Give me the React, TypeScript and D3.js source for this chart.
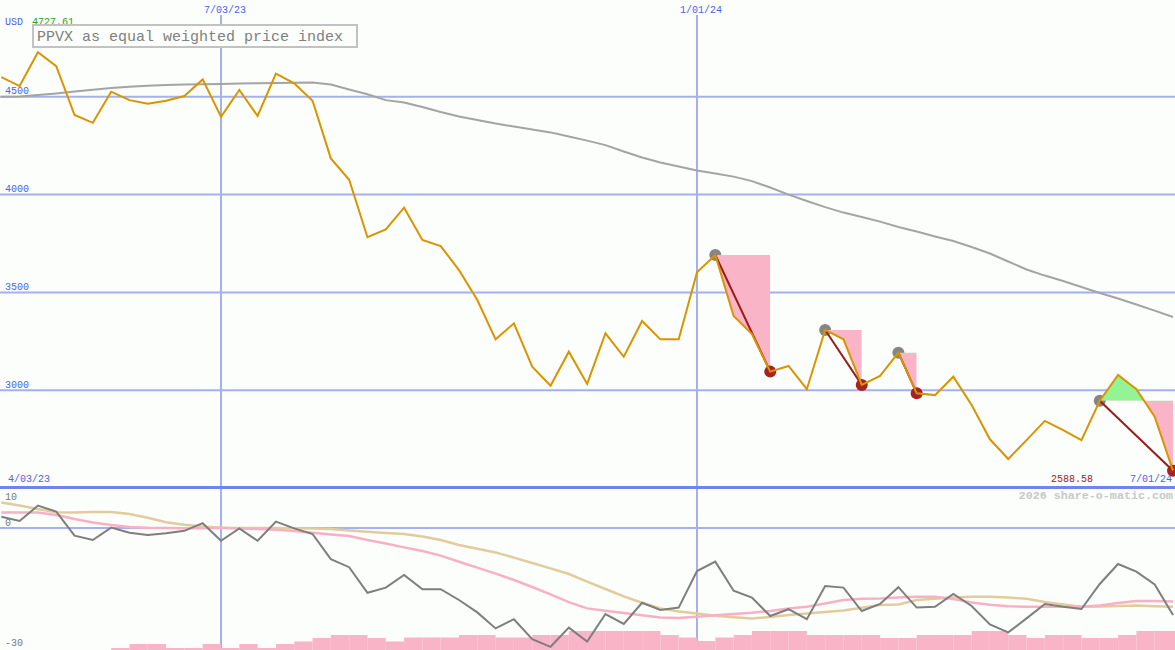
import React from "react";
import * as d3 from "d3";

const W = 1175;
const H = 650;

// weekly closes, Mondays 4/10/23 .. 7/01/24
const weeks = d3.timeMonday.range(new Date(2023, 3, 10), new Date(2024, 6, 2));

const price = [
  4601, 4555, 4727.61, 4657, 4407, 4367, 4526, 4483, 4465, 4480,
  4504, 4589, 4398, 4535, 4402, 4618, 4569, 4480, 4185, 4076,
  3782, 3822, 3933, 3768, 3737, 3614, 3461, 3260, 3342, 3120,
  3023, 3197, 3032, 3291, 3171, 3354, 3260, 3260, 3603, 3691,
  3379, 3287, 3095, 3124, 3005, 3308, 3260, 3027, 3073, 3192,
  2984, 2975, 3069, 2924, 2749, 2648, 2745, 2843, 2796, 2745,
  2946, 3078, 3005, 2864, 2588.58,
];

const avg40 = [
  4500, 4501, 4509, 4517, 4527, 4536, 4545, 4552, 4557, 4560,
  4563, 4564, 4565, 4568, 4569, 4570, 4572, 4573, 4563, 4537,
  4513, 4483, 4471, 4448, 4422, 4399, 4381, 4363, 4348, 4333,
  4318, 4297, 4276, 4253, 4220, 4190, 4164, 4144, 4123, 4108,
  4092, 4069, 4036, 4000, 3967, 3936, 3908, 3885, 3862, 3834,
  3811, 3786, 3763, 3732, 3699, 3658, 3617, 3586, 3558, 3528,
  3497, 3469, 3438, 3407, 3374,
];

const momentum = [
  2.8, 1.75, 5.6, 4.1, -1.9, -3, 0.1, -1.2, -1.75, -1.3,
  -0.7, 1.2, -3.2, -0.1, -3.2, 1.6, -0.1, -1.5, -7.8, -9.8,
  -16.2, -14.9, -11.75, -15.3, -15.3, -18, -21.1, -25.1, -22.8, -27.8,
  -29.7, -24.9, -28.4, -21.5, -24, -18.7, -20.5, -19.9, -10.75, -8.4,
  -15.7, -17.4, -22, -20.3, -22.8, -14.5, -14.9, -20.75, -19, -14.8,
  -19.9, -19.7, -16.5, -19.5, -24.1, -26.1, -22.6, -19, -19.7, -20.25,
  -14, -9, -10.9, -14.1, -21.75,
];

const pinkAvg = [
  3.9, 3.9, 3.9, 3.25, 2.25, 1.4, 0.75, 0.25, 0.05, 0,
  -0.05, -0.05, 0.05, -0.1, -0.25, -0.45, -0.75, -1.2, -1.6, -2,
  -3, -3.9, -4.85, -5.75, -6.9, -8.45, -9.9, -11.4, -13, -14.75,
  -16.6, -18.55, -20.1, -20.7, -21.25, -21.8, -22.4, -22.5, -22.2, -21.8,
  -21.5, -21.2, -20.75, -20.1, -19.7, -18.9, -18, -17.7, -17.6, -17.35,
  -17.2, -17.2, -17.75, -18.6, -19.2, -19.55, -19.7, -19.7, -19.7, -19.7,
  -19.4, -18.75, -18.25, -18.25, -18.4,
];

const tanAvg = [
  6.4, 5.6, 4.75, 3.95, 3.9, 4, 4, 3.5, 2.55, 1.45,
  0.8, 0.4, 0.05, 0, 0, 0, -0.05, -0.15, -0.25, -0.6,
  -0.95, -1.25, -1.5, -2.1, -3, -4.25, -5.2, -6.1, -7.4, -8.75,
  -10.1, -11.5, -13.4, -15.25, -17.1, -18.7, -20.1, -20.85, -21.4, -21.95,
  -22.3, -22.6, -22.25, -21.75, -21.4, -21, -20.6, -19.95, -19.25, -19.1,
  -18, -17.7, -17.4, -17.2, -17.2, -17.35, -17.7, -18.5, -19.1, -19.7,
  -19.6, -19.5, -19.4, -19.55, -19.7,
];

const volBars = [
  null, null, null, null, null, null, 2, 6, 6, 2,
  2, 6, 2, 6, 2, 6, 8.5, 12, 15, 15,
  12, 8.5, 12.5, 12.5, 12.5, 15, 15, 12.5, 12.5, 15,
  15, 19, 19, 19, 19, 19, 15, 12.5, 9, 12.5,
  15, 19, 19, 19, 15, 15, 15, 15, 12, 12,
  15, 15, 15, 19, 19, 15, 12, 15, 15, 12,
  12, 15, 19, 19, 19,
];

// [peak week index, trough week index]
const drawdowns = [[39, 42], [45, 47], [49, 50], [60, 64]];

const priceTicks = [3000, 3500, 4000, 4500];
const lowTicks = [10, 0, -30];
const dateGrid = [new Date(2023, 6, 3), new Date(2024, 0, 1)];
const startLabel = new Date(2023, 3, 3);
const endLabel = new Date(2024, 6, 1);
const title = "PPVX as equal weighted price index";

const mono = "'Liberation Mono', 'DejaVu Sans Mono', monospace";
const blue = "#4d60ee";
const grid = "#a4b0f0";

const x = d3.scaleTime().domain(dateGrid).range([221, 697]);
const y = d3.scaleLinear().domain([2500, 5000]).range([488, -1]);
const yl = d3.scaleLinear().domain([-30, 10]).range([648, 488]);
const yv = d3.scaleLinear().domain([0, 20]).range([650, 630]);
const fmt = d3.timeFormat("%-m/%d/%y");

export default function App() {
  const idx = d3.range(weeks.length);
  const line = (ys: (i: number) => number) =>
    d3.line<number>().x((i) => x(weeks[i])).y(ys)(idx) || "";

  const maxV = d3.max(price) as number;
  const minV = d3.min(price) as number;

  return (
    <svg width={W} height={H} style={{ position: "absolute", left: 0, top: 0, display: "block" }}>
      <defs>
        {drawdowns.map(([s, e], k) => {
          const lv = y(price[s]);
          const x0 = x(weeks[s]);
          const x1 = x(weeks[e]);
          return (
            <React.Fragment key={k}>
              <clipPath id={`up${k}`}>
                <rect x={x0} y={0} width={x1 - x0} height={lv} />
              </clipPath>
              <clipPath id={`dn${k}`}>
                <rect x={x0} y={lv} width={x1 - x0} height={H - lv} />
              </clipPath>
            </React.Fragment>
          );
        })}
      </defs>
      <rect width={W} height={H} fill="#fbfefb" />

      {/* grid */}
      {priceTicks.map((t) => (
        <line key={t} x1={0} x2={W} y1={y(t)} y2={y(t)} stroke={grid} strokeWidth={2} />
      ))}
      <line x1={0} x2={W} y1={yl(0)} y2={yl(0)} stroke={grid} strokeWidth={2} />
      {dateGrid.map((d) => (
        <line key={+d} x1={x(d)} x2={x(d)} y1={15} y2={H} stroke={grid} strokeWidth={2} />
      ))}
      <line x1={0} x2={W} y1={y(2500) - 0.5} y2={y(2500) - 0.5} stroke="#7282ee" strokeWidth={3} />

      {/* lower panel */}
      {volBars.map((v, i) =>
        v == null ? null : (
          <rect
            key={i}
            x={x(weeks[i])}
            y={yv(v)}
            width={x(d3.timeWeek.offset(weeks[i], 1)) - x(weeks[i])}
            height={H - yv(v)}
            fill="#f9b4c8"
          />
        )
      )}
      <path d={line((i) => yl(tanAvg[i]))} fill="none" stroke="#e2cc9c" strokeWidth={2.5} />
      <path d={line((i) => yl(pinkAvg[i]))} fill="none" stroke="#f8b0c6" strokeWidth={2.5} />
      <path d={line((i) => yl(momentum[i]))} fill="none" stroke="#7e7e7e" strokeWidth={2} />

      {/* main panel */}
      <path d={line((i) => y(avg40[i]))} fill="none" stroke="#a4a4a4" strokeWidth={2} />

      {drawdowns.map(([s]) => (
        <circle key={s} cx={x(weeks[s])} cy={y(price[s])} r={6} fill="#858585" />
      ))}
      {drawdowns.map(([s, e], k) => {
        const seg = d3.range(s, e + 1);
        const area = d3
          .area<number>()
          .x((i) => x(weeks[i]))
          .y0(y(price[s]))
          .y1((i) => y(price[i]))(seg) || "";
        return (
          <g key={k}>
            <path d={area} fill="#94f494" clipPath={`url(#up${k})`} />
            <path d={area} fill="#f9b4c8" clipPath={`url(#dn${k})`} />
          </g>
        );
      })}
      {drawdowns.map(([s, e]) => (
        <line
          key={s}
          x1={x(weeks[s])}
          y1={y(price[s])}
          x2={x(weeks[e])}
          y2={y(price[e])}
          stroke="#9c1c1c"
          strokeWidth={2}
        />
      ))}
      {drawdowns.map(([, e]) => (
        <circle key={e} cx={x(weeks[e])} cy={y(price[e])} r={6} fill="#a82222" />
      ))}
      <path d={line((i) => y(price[i]))} fill="none" stroke="#d99400" strokeWidth={2} />

      {/* labels */}
      <g fontFamily={mono} fontSize={10}>
        {dateGrid.map((d) => (
          <text key={+d} x={x(d) - 17} y={12.5} fill={blue}>{fmt(d)}</text>
        ))}
        <text x={5} y={25} fill={blue}>USD</text>
        <text x={32} y={25} fill="#22a022">{maxV.toFixed(2)}</text>
        {priceTicks.map((t) => (
          <text key={t} x={5} y={y(t) - 2.5} fill={blue}>{t}</text>
        ))}
        <text x={8} y={482} fill={blue}>{fmt(startLabel)}</text>
        <text x={1172} y={482} fill={blue} textAnchor="end">{fmt(endLabel)}</text>
        <text x={1093} y={482} fill="#a02020" textAnchor="end">{minV.toFixed(2)}</text>
        {lowTicks.map((t) => (
          <text key={t} x={5} y={t === 10 ? yl(t) + 12 : yl(t) - 2.3} fill="#7a7a7a">{t}</text>
        ))}
      </g>
      <text x={1173} y={499} fontFamily={mono} fontSize={11.7} fontWeight="bold" fill="#c8c8c8" textAnchor="end">
        2026 share-o-matic.com
      </text>

      <rect x={33} y={25} width={324} height={22} fill="#fbfefb" stroke="#c2c2c2" strokeWidth={2} />
      <text x={37} y={41} fontFamily={mono} fontSize={15} fill="#808080">{title}</text>
    </svg>
  );
}
